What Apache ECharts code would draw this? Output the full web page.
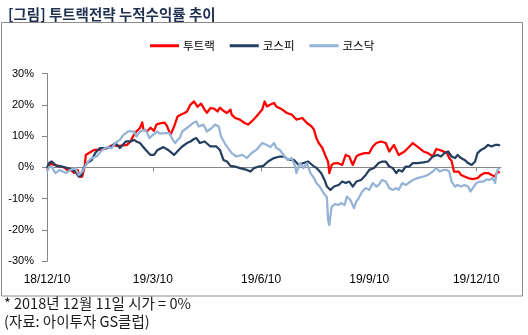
<!DOCTYPE html>
<html>
<head>
<meta charset="utf-8">
<script src="https://cdn.jsdelivr.net/npm/echarts@6/dist/echarts.min.js"></script>
<style>
  html, body { margin: 0; padding: 0; background: #ffffff; }
  #chart { width: 528px; height: 335px; }
</style>
</head>
<body>
<div id="chart"></div>
<script>
// Days counted from 2018-12-10; values are cumulative return in %.
const tickDays   = [0, 90, 182, 274, 365];
const tickLabels = ['18/12/10', '19/3/10', '19/6/10', '19/9/10', '19/12/10'];

const twoTrackDays = [0,3,6,10,15,18,20,23,26,28,30,32,33,36,40,45,51,56,59,62,68,71,73,76,79,81,82,85,88,91,93,96,100,102,105,108,111,114,117,119,122,125,128,131,134,136,139,142,145,147,150,153,156,157,160,164,168,171,174,178,183,185,187,190,193,195,200,204,208,212,217,221,225,227,229,231,234,237,239,240,242,244,247,251,254,257,260,263,265,270,274,277,280,284,288,291,295,299,304,308,311,316,320,324,328,331,336,340,342,344,346,350,352,355,358,362,366,369,372,375,378,381,383,385];
const twoTrackPct  = [-0.8,1.2,0.8,0.5,-0.1,-1.1,-0.8,-1.7,-0.8,-3.0,-2.9,0.2,4.0,4.7,5.6,5.6,6.2,7.2,6.9,6.9,7.2,8.3,9.9,11.5,12.6,14.4,12.1,11.5,12.7,11.7,13.7,14.1,14.3,13.3,10.4,13.0,16.3,16.9,17.4,17.9,20.1,21.1,19.4,20.4,18.5,17.5,19.0,18.8,17.9,19.1,18.1,17.4,18.5,16.9,15.8,15.3,14.2,13.7,14.7,16.3,18.5,21.1,19.5,20.1,20.6,19.5,18.5,17.4,16.9,15.3,15.8,14.2,13.1,12.1,9.4,7.8,6.3,3.5,1.8,-1.8,0.8,1.3,1.4,0.8,4.0,3.5,0.8,3.5,4.0,4.6,4.6,6.7,7.8,8.3,7.8,5.1,7.2,4.0,5.1,6.6,7.8,6.3,5.1,4.6,3.5,5.9,5.3,4.6,3.0,2.1,-1.3,-1.3,-2.4,-2.9,-3.4,-3.7,-3.4,-2.4,-1.8,-1.8,-2.4,-2.9,-1.3,-1.7];

const kospiDays = [0,2,4,8,14,20,24,27,29,31,34,38,41,45,51,55,58,62,67,71,74,76,79,84,88,91,94,99,103,108,112,115,119,122,125,127,130,134,139,144,147,150,153,156,160,164,170,173,176,180,184,188,193,198,202,205,210,214,218,222,227,229,233,236,238,241,244,248,251,254,257,260,263,267,271,274,278,282,285,288,291,294,297,299,302,305,308,311,315,320,324,328,332,335,338,341,344,347,349,352,355,358,361,364,366,369,372,375,378,381,384,385];
const kospiPct  = [-0.1,1.5,1.9,0.5,0.2,-0.5,-1.3,-2.9,-2.7,-0.2,1.4,2.4,4.6,6.2,6.2,6.7,7.8,6.2,8.3,8.3,8.8,8.3,7.8,5.6,4.0,4.0,5.6,6.5,5.6,4.0,5.6,6.7,7.8,8.3,9.1,9.4,7.8,8.3,6.7,6.7,5.6,2.4,1.9,0.5,0.3,-0.2,-0.8,-1.3,-0.2,0.3,0.5,1.9,3.0,3.5,3.5,2.4,2.4,0.8,1.4,1.9,0.3,-0.1,-1.8,-4.0,-6.1,-7.2,-6.1,-5.6,-4.5,-5.0,-4.5,-6.1,-4.5,-4.0,-2.4,-0.8,-0.2,1.4,1.9,1.9,0.3,-0.2,-1.8,-0.8,-1.3,0.3,0.3,1.4,1.4,1.6,1.9,3.5,4.0,3.5,4.6,5.1,3.5,3.0,4.0,3.0,2.4,1.4,0.8,1.9,4.6,5.6,6.2,7.2,6.7,7.2,7.2,6.9];

const kosdaqDays = [0,2,4,7,11,16,20,24,27,30,33,35,38,42,47,51,55,58,62,65,69,74,76,79,84,87,90,94,96,100,104,107,109,111,113,115,119,124,127,129,133,136,140,143,146,148,151,154,157,161,166,170,174,178,183,187,190,193,195,198,202,205,208,211,212,215,218,221,224,227,229,232,235,238,239,240,242,245,248,250,253,255,258,261,263,265,268,271,274,277,280,282,285,288,291,294,297,299,302,305,308,311,315,320,324,328,331,334,337,340,342,344,347,349,352,355,358,360,362,365,368,371,374,376,379,381,382,383,385];
const kosdaqPct  = [-1.3,0.2,0.3,-1.8,-0.8,-1.8,-0.8,-0.2,-2.4,-1.3,0.8,1.9,3.0,3.5,5.6,6.5,6.2,7.8,8.8,10.4,11.5,11.5,9.9,11.5,12.1,9.4,10.4,11.5,10.8,11.0,11.0,8.8,7.8,8.8,9.5,11.5,12.6,14.2,14.7,13.1,13.7,11.5,12.6,13.7,13.1,9.9,7.8,6.2,4.6,3.5,4.0,3.0,4.6,5.6,7.8,7.2,6.5,7.8,6.2,5.6,3.5,2.4,3.0,0.3,-1.8,1.4,-0.2,1.4,-1.8,-3.4,-5.0,-6.2,-8.1,-9.6,-16.8,-18.4,-12.5,-11.7,-12.0,-11.4,-12.0,-9.3,-10.4,-13.0,-10.9,-9.8,-7.7,-6.6,-7.2,-5.0,-6.1,-5.6,-4.0,-4.5,-6.6,-7.2,-6.6,-7.2,-5.0,-5.6,-4.8,-4.0,-3.4,-2.9,-2.4,-1.3,-0.2,-1.3,-0.8,-0.8,-1.3,-4.5,-6.1,-5.6,-6.1,-5.6,-6.1,-7.7,-6.6,-5.0,-4.5,-4.5,-3.8,-4.0,-3.4,-5.0,-2.4,-0.8,-0.2];

const seriesNames  = ['투트랙', '코스피', '코스닥'];
const seriesColors = ['#ff0000', '#243f60', '#95b3d7'];

const zip = (xs, ys) => xs.map((x, i) => [x, ys[i]]);
const seriesData = [
  zip(twoTrackDays, twoTrackPct),
  zip(kospiDays, kospiPct),
  zip(kosdaqDays, kosdaqPct)
];

const labelFor = v => {
  const i = tickDays.indexOf(v);
  return i >= 0 ? tickLabels[i] : '';
};

const axisGray = '#868686';
const numFont = '"Liberation Sans", Arial, "Noto Sans CJK KR", sans-serif';
const krFont = '"Noto Sans CJK KR", "Liberation Sans", sans-serif';

const chart = echarts.init(document.getElementById('chart'), null, { renderer: 'canvas' });

chart.setOption({
  animation: false,
  backgroundColor: '#ffffff',
  title: {
    text: '[그림] 투트랙전략 누적수익률 추이',
    left: 3, top: 2,
    textStyle: { fontFamily: krFont, fontSize: 14.5, fontWeight: 'bold', color: '#1f3050' }
  },
  graphic: [
    {
      type: 'rect', z: -1,
      shape: { x: 1.5, y: 22.5, width: 521, height: 273.5 },
      style: { fill: 'none', stroke: '#8c8c8c', lineWidth: 1 }
    },
    {
      type: 'text', left: 4, top: 296,
      style: { text: '* 2018년 12월 11일 시가 = 0%', font: '14.5px ' + krFont, fill: '#1a1a1a' }
    },
    {
      type: 'text', left: 4, top: 314,
      style: { text: '(자료: 아이투자 GS클럽)', font: '14.5px ' + krFont, fill: '#1a1a1a' }
    }
  ],
  legend: {
    left: 145, top: 35,
    itemWidth: 29, itemHeight: 3, itemGap: 15,
    icon: 'rect',
    textStyle: { fontFamily: krFont, fontSize: 11.5, color: '#000000', padding: [0, 0, 0, -1] },
    data: seriesNames
  },
  grid: { left: 47, right: 27, top: 73.6, bottom: 73.7, containLabel: false },
  xAxis: [
    {
      type: 'value', min: 0, max: 386,
      axisLine: { show: true, onZero: true, lineStyle: { color: axisGray, width: 1 } },
      axisTick: { show: true, customValues: tickDays.slice(1), length: 4, lineStyle: { color: axisGray } },
      axisLabel: { show: false },
      splitLine: { show: false }
    },
    {
      type: 'value', min: 0, max: 386, position: 'bottom',
      axisLine: { show: false, onZero: false },
      axisTick: { show: false },
      axisLabel: {
        show: true, customValues: tickDays, margin: 12,
        formatter: labelFor,
        fontFamily: numFont, fontSize: 12, color: '#000000'
      },
      splitLine: { show: false }
    }
  ],
  yAxis: {
    type: 'value', min: -30, max: 30, interval: 10,
    axisLine: { show: true, lineStyle: { color: axisGray, width: 1 } },
    axisTick: { show: true, length: 5, lineStyle: { color: axisGray } },
    axisLabel: { formatter: '{value}%', margin: 13, fontFamily: numFont, fontSize: 11, color: '#000000' },
    splitLine: { show: false }
  },
  series: seriesNames.map((name, i) => ({
    name,
    type: 'line',
    xAxisIndex: 0,
    data: seriesData[i],
    symbol: 'none',
    color: seriesColors[i],
    lineStyle: { width: 2.25, color: seriesColors[i], join: 'round' },
    z: 2 + i
  }))
});
</script>
</body>
</html>
